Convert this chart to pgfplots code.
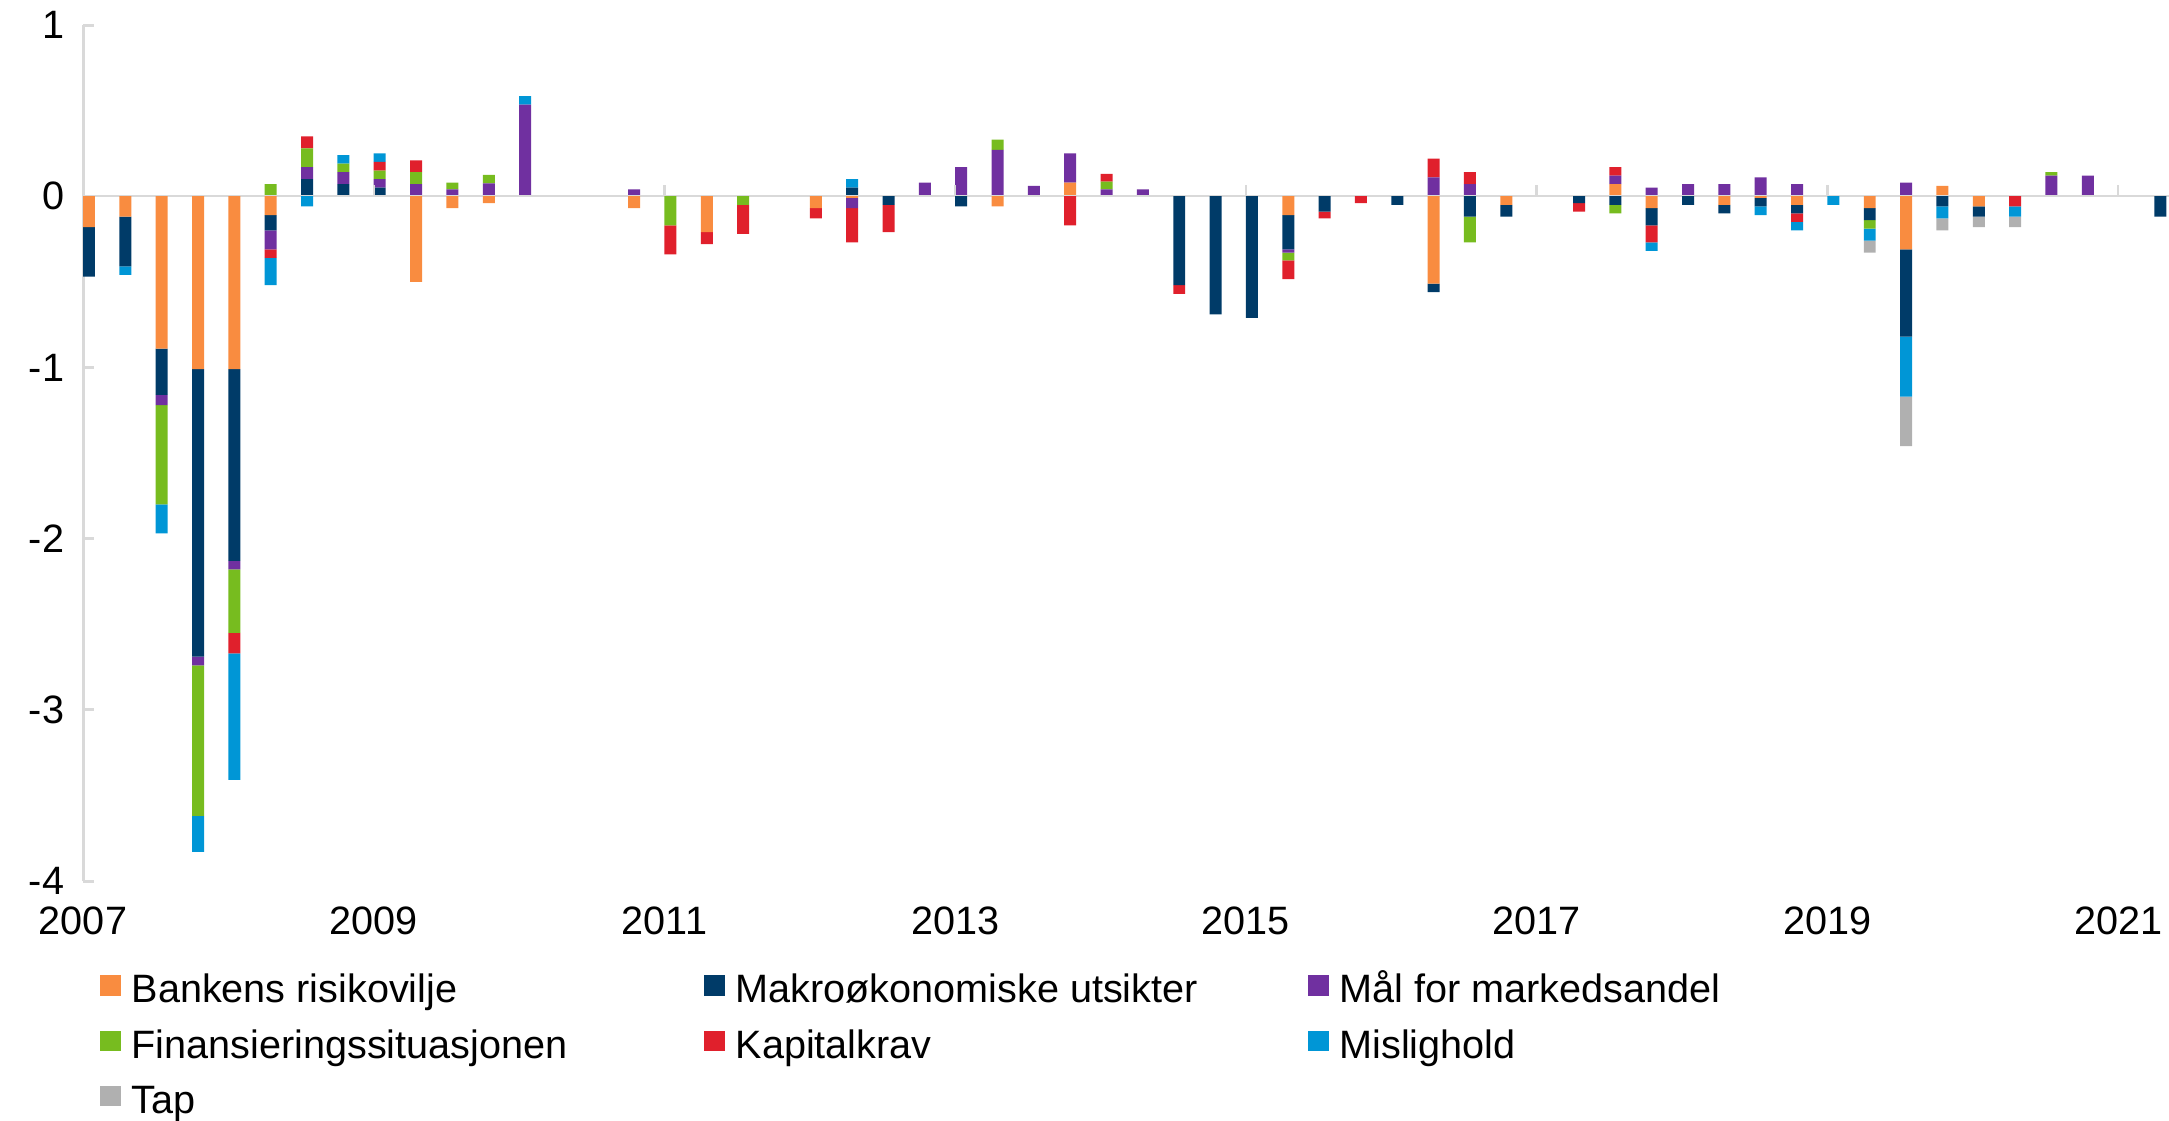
\documentclass[border=0pt]{standalone}
\usepackage{fontspec}
\setmainfont{Liberation Sans}
\usepackage{pgfplots}
\pgfplotsset{compat=1.18}
\usepackage{pgfplotstable}

\definecolor{cO}{HTML}{F98C40}
\definecolor{cN}{HTML}{003B68}
\definecolor{cP}{HTML}{7030A0}
\definecolor{cG}{HTML}{77BC1F}
\definecolor{cR}{HTML}{E0202C}
\definecolor{cC}{HTML}{0096D6}
\definecolor{cT}{HTML}{B0B0B0}
\definecolor{axgray}{HTML}{D9D9D9}

% n = quarter index (0 = 2007 Q1); O Bankens, N Makro, P Mål, G Finans, R Kapitalkrav, C Mislighold, T Tap
\pgfplotstableread{
n O N P G R C T
0 -0.18 -0.29 0 0 0 0 0
1 -0.12 -0.29 0 0 0 -0.05 0
2 -0.89 -0.27 -0.06 -0.58 0 -0.17 0
3 -1.01 -1.68 -0.05 -0.88 0 -0.21 0
4 -1.01 -1.12 -0.05 -0.37 -0.12 -0.74 0
5 -0.11 -0.09 -0.11 0.07 -0.05 -0.16 0
6 0 0.10 0.07 0.11 0.07 -0.06 0
7 0 0.07 0.07 0.05 0 0.05 0
8 0 0.05 0.05 0.05 0.05 0.05 0
9 -0.50 0 0.07 0.07 0.07 0 0
10 -0.07 0 0.04 0.04 0 0 0
11 -0.04 0 0.075 0.05 0 0 0
12 0 0 0.535 0 0 0.05 0
13 0 0 0 0 0 0 0
14 0 0 0 0 0 0 0
15 -0.07 0 0.04 0 0 0 0
16 0 0 0 -0.17 -0.17 0 0
17 -0.21 0 0 0 -0.07 0 0
18 0 0 0 -0.05 -0.17 0 0
19 0 0 0 0 0 0 0
20 -0.07 0 0 0 -0.06 0 0
21 -0.01 0.05 -0.06 0 -0.20 0.05 0
22 0 -0.05 0 0 -0.16 0 0
23 0 0 0.08 0 0 0 0
24 0 -0.06 0.17 0 0 0 0
25 -0.06 0 0.27 0.06 0 0 0
26 0 0 0.06 0 0 0 0
27 0.08 0 0.17 0 -0.17 0 0
28 0 0 0.04 0.045 0.045 0 0
29 0 0 0.04 0 0 0 0
30 0 -0.52 0 0 -0.05 0 0
31 0 -0.69 0 0 0 0 0
32 0 -0.71 0 0 0 0 0
33 -0.11 -0.20 -0.02 -0.045 -0.11 0 0
34 0 -0.09 0 0 -0.04 0 0
35 0 0 0 0 -0.04 0 0
36 0 -0.05 0 0 0 0 0
37 -0.51 -0.05 0.11 0 0.11 0 0
38 0 -0.12 0.07 -0.15 0.07 0 0
39 -0.05 -0.07 0 0 0 0 0
40 0 0 0 0 0 0 0
41 0 -0.04 0 0 -0.05 0 0
42 0.07 -0.05 0.05 -0.05 0.05 0 0
43 -0.07 -0.10 0.05 0 -0.10 -0.05 0
44 0 -0.05 0.07 0 0 0 0
45 -0.05 -0.05 0.07 0 0 0 0
46 -0.01 -0.05 0.11 0 0 -0.05 0
47 -0.05 -0.05 0.07 0 -0.05 -0.05 0
48 0 0 0 0 0 -0.05 0
49 -0.07 -0.07 0 -0.05 0 -0.07 -0.07
50 -0.31 -0.51 0.08 0 0 -0.35 -0.29
51 0.06 -0.06 0 0 0 -0.07 -0.07
52 -0.06 -0.06 0 0 0 0 -0.06
53 0 0 0 0 -0.06 -0.06 -0.06
54 0 0 0.12 0.02 0 0 0
55 0 0 0.12 0 0 0 0
56 0 0 0 0 0 0 0
57 0 -0.12 0 0 0 0 0
}\data

\pgfplotsset{base/.style={
  scale only axis, width=521.5bp, height=214bp,
  at={(20.75bp,60bp)}, anchor=south west,
  xmin=0, xmax=57.4, ymin=-4, ymax=1,
  ybar stacked, bar width=0.33,
}}

\begin{document}
\begin{tikzpicture}
% positive parts + axes + legend
\begin{axis}[base,
  axis x line*=bottom, axis y line*=left,
  x axis line style={draw=none}, xtick style={draw=none},
  y axis line style={axgray, line width=0.75bp, -},
  ytick style={axgray, line width=0.75bp},
  tick align=inside, major tick length=2.75bp,
  xtick={0,8,16,24,32,40,48,56},
  xticklabels={2007,2009,2011,2013,2015,2017,2019,2021},
  ytick={-4,-3,-2,-1,0,1},
  yticklabels={-4,-3,-2,-1,0,1},
  ticklabel style={font=\fontsize{9.9bp}{12bp}\selectfont},
  xticklabel style={yshift=-2.9bp},
  yticklabel style={xshift=-1.2bp},
  legend columns=3, legend cell align=left,
  legend image code/.code={\fill[#1] (0bp,-0.7bp) rectangle (5.3bp,4.4bp);},
  legend style={at={(axis description cs:0.00815,-0.1087)}, anchor=north west,
    draw=none, fill=none, inner sep=0pt, outer sep=0pt,
    row sep=4.45bp, column sep=0pt,
    font=\fontsize{9.9bp}{12bp}\selectfont,
    nodes={inner sep=0pt, text height=7.2bp, text depth=2.2bp},
    /tikz/every odd column/.append style={column sep=2.6bp}},
]
\draw[axgray, line width=0.6bp] (axis cs:0,0) -- (axis cs:57.4,0);
\pgfplotsinvokeforeach{8,16,24,32,40,48,56}{
  \draw[axgray, line width=0.6bp] (axis cs:#1,0) -- ++(0pt,2.75bp);
}
\addplot[fill=cO, draw=none] table[x expr=\thisrow{n}+0.165, y expr={max(\thisrow{O},0)}] {\data};
\addlegendentry{\makebox[143.1bp][l]{Bankens risikovilje}}
\addplot[fill=cN, draw=none] table[x expr=\thisrow{n}+0.165, y expr={max(\thisrow{N},0)}] {\data};
\addlegendentry{\makebox[143.1bp][l]{Makroøkonomiske utsikter}}
\addplot[fill=cP, draw=none] table[x expr=\thisrow{n}+0.165, y expr={max(\thisrow{P},0)}] {\data};
\addlegendentry{\makebox[143.1bp][l]{Mål for markedsandel}}
\addplot[fill=cG, draw=none] table[x expr=\thisrow{n}+0.165, y expr={max(\thisrow{G},0)}] {\data};
\addlegendentry{\makebox[143.1bp][l]{Finansieringssituasjonen}}
\addplot[fill=cR, draw=none] table[x expr=\thisrow{n}+0.165, y expr={max(\thisrow{R},0)}] {\data};
\addlegendentry{\makebox[143.1bp][l]{Kapitalkrav}}
\addplot[fill=cC, draw=none] table[x expr=\thisrow{n}+0.165, y expr={max(\thisrow{C},0)}] {\data};
\addlegendentry{\makebox[143.1bp][l]{Mislighold}}
\addplot[fill=cT, draw=none] table[x expr=\thisrow{n}+0.165, y expr={max(\thisrow{T},0)}] {\data};
\addlegendentry{\makebox[143.1bp][l]{Tap}}
\end{axis}
% negative parts
\begin{axis}[base, hide axis]
\addplot[fill=cO, draw=none] table[x expr=\thisrow{n}+0.165, y expr={min(\thisrow{O},0)}] {\data};
\addplot[fill=cN, draw=none] table[x expr=\thisrow{n}+0.165, y expr={min(\thisrow{N},0)}] {\data};
\addplot[fill=cP, draw=none] table[x expr=\thisrow{n}+0.165, y expr={min(\thisrow{P},0)}] {\data};
\addplot[fill=cG, draw=none] table[x expr=\thisrow{n}+0.165, y expr={min(\thisrow{G},0)}] {\data};
\addplot[fill=cR, draw=none] table[x expr=\thisrow{n}+0.165, y expr={min(\thisrow{R},0)}] {\data};
\addplot[fill=cC, draw=none] table[x expr=\thisrow{n}+0.165, y expr={min(\thisrow{C},0)}] {\data};
\addplot[fill=cT, draw=none] table[x expr=\thisrow{n}+0.165, y expr={min(\thisrow{T},0)}] {\data};
\end{axis}
\pgfresetboundingbox
\path (0,0) rectangle (542.25bp,280.25bp);
\end{tikzpicture}
\end{document}
